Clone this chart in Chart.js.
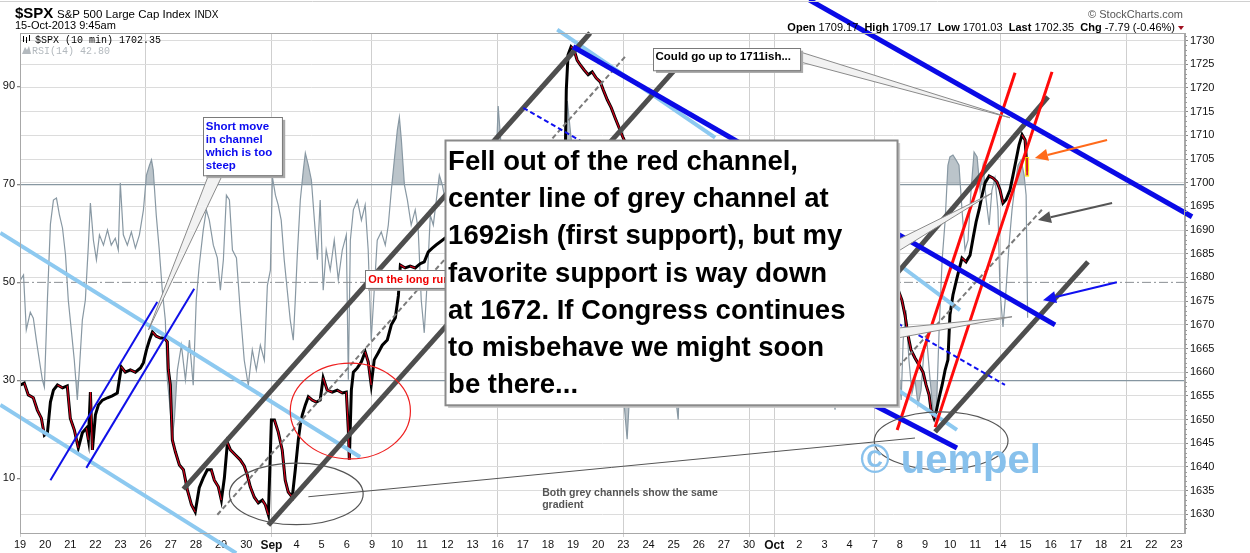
<!DOCTYPE html>
<html><head><meta charset="utf-8">
<script src="https://cdn.jsdelivr.net/npm/chart.js@4.4.0/dist/chart.umd.min.js"></script>
<style>html,body{margin:0;padding:0;background:#fff;overflow:hidden}canvas{display:block}</style>
</head><body>
<canvas id="c" width="1250" height="553" style="width:1250px;height:553px"></canvas>
<script>
// ---------- axis labels ----------
const dayLabels = ['19','20','21','22','23','26','27','28','29','30','Sep','4','5','6','9','10','11','12','13','16','17','18','19','20','23','24','25','26','27','30','Oct','2','3','4','7','8','9','10','11','14','15','16','17','18','21','22','23'];
const gridDays = [0,5,10,14,19,24,29,30,34,39,44];
const priceTicks = [1630,1635,1640,1645,1650,1655,1660,1665,1670,1675,1680,1685,1690,1695,1700,1705,1710,1715,1720,1725,1730];
const rsiTicks = [10,30,50,70,90];

// ---------- $SPX 10-min price (x = trading-day index, y = price) ----------
const priceX = [0.02,0.17,0.33,0.53,0.69,0.85,0.97,1.09,1.21,1.33,1.49,1.69,1.88,2.00,2.16,2.32,2.48,2.64,2.72,2.80,2.88,3.00,3.12,3.28,3.48,3.67,3.87,4.03,4.19,4.39,4.59,4.79,4.91,5.03,5.15,5.27,5.42,5.58,5.74,5.86,5.90,5.98,6.06,6.18,6.34,6.50,6.66,6.82,6.97,7.13,7.29,7.45,7.61,7.73,7.89,8.01,8.13,8.25,8.37,8.57,8.76,8.92,9.04,9.16,9.32,9.48,9.64,9.76,9.88,10.00,10.12,10.27,10.43,10.55,10.67,10.83,10.95,11.07,11.15,11.23,11.35,11.47,11.63,11.79,11.94,12.06,12.22,12.42,12.62,12.82,12.98,13.06,13.10,13.18,13.26,13.42,13.58,13.73,13.85,13.97,14.09,14.25,14.41,14.61,14.77,14.93,15.05,15.13,15.32,15.52,15.72,15.92,16.08,16.24,16.40,16.56,16.76,16.91,
17.10,17.30,17.55,17.80,18.05,18.30,18.55,18.80,19.02,19.25,19.50,19.75,20.05,20.30,20.55,20.80,21.05,21.30,21.55,21.70,21.73,21.80,21.92,22.04,22.16,22.28,22.44,22.60,22.76,22.92,23.08,23.20,23.36,23.52,23.67,23.83,23.99,
24.20,24.45,24.70,24.95,25.20,25.45,25.70,25.95,26.20,26.45,26.70,26.95,27.20,27.45,27.70,27.95,28.20,28.45,28.70,28.95,29.10,29.35,29.60,29.85,30.10,30.35,30.60,30.85,31.10,31.35,31.60,31.85,32.10,32.35,32.60,32.85,33.10,33.35,33.60,33.85,34.10,34.35,34.60,34.85,
34.93,35.08,35.20,35.32,35.44,35.60,35.76,35.92,36.04,36.16,36.24,36.36,36.44,36.56,36.68,36.80,36.91,36.99,37.11,37.23,37.35,37.47,37.63,37.79,37.91,38.03,38.15,38.27,38.39,38.55,38.70,38.86,38.98,39.10,39.22,39.38,39.50,39.62,39.74,39.86,39.98,40.06];
const priceY = [1657.3,1657.7,1655.2,1654.6,1652.0,1650.3,1646.7,1647.2,1653.7,1656.2,1657.3,1656.7,1657.1,1650.3,1647.8,1644.0,1647.2,1648.2,1645.7,1655.8,1643.6,1651.0,1653.1,1654.1,1654.6,1655.0,1655.6,1661.1,1660.0,1660.5,1660.0,1660.9,1662.0,1664.7,1666.8,1668.5,1667.6,1667.2,1667.2,1666.4,1660.5,1657.3,1645.7,1643.2,1640.4,1639.4,1635.1,1632.0,1630.5,1635.6,1637.7,1639.4,1639.4,1637.2,1635.8,1633.0,1637.7,1645.1,1643.6,1642.5,1641.5,1640.2,1638.3,1635.8,1633.6,1632.4,1633.0,1632.0,1629.9,1649.9,1649.9,1647.4,1643.6,1637.2,1634.7,1633.6,1639.4,1645.7,1648.9,1651.0,1653.1,1654.8,1654.1,1653.7,1654.1,1658.8,1656.2,1655.8,1656.2,1655.6,1655.8,1647.8,1641.5,1656.2,1660.0,1660.9,1662.2,1664.3,1662.2,1657.3,1662.6,1664.1,1665.7,1666.8,1670.0,1671.5,1676.1,1682.6,1682.0,1682.4,1682.0,1682.9,1683.3,1685.4,1686.2,1686.9,1687.7,1688.3,
1688.8,1686.0,1683.5,1684.0,1685.5,1686.5,1688.0,1688.5,1703.5,1700.5,1698.0,1697.0,1698.5,1700.5,1702.0,1703.5,1704.5,1704.0,1706.0,1709.0,1719.6,1727.0,1728.7,1728.0,1725.9,1724.9,1723.8,1722.8,1723.4,1722.1,1721.3,1719.6,1717.5,1715.8,1713.7,1711.6,1709.5,
1707.0,1704.0,1701.0,1700.5,1702.0,1699.0,1697.5,1697.0,1697.5,1695.0,1693.5,1692.5,1694.0,1696.5,1698.0,1697.0,1694.5,1693.0,1692.0,1691.0,1680.0,1676.0,1678.5,1681.0,1683.0,1686.5,1691.0,1694.5,1691.0,1693.0,1692.0,1694.0,1691.5,1686.0,1681.0,1678.0,1680.0,1684.0,1687.5,1690.0,1685.5,1682.0,1678.5,1677.5,
1677.4,1675.2,1672.1,1667.9,1664.7,1663.0,1661.5,1660.0,1657.3,1655.2,1652.0,1650.3,1651.6,1654.6,1657.3,1660.5,1662.6,1672.1,1676.3,1679.0,1681.6,1684.1,1683.3,1684.7,1688.3,1691.7,1694.3,1697.4,1700.0,1701.4,1701.0,1700.2,1698.5,1695.7,1696.4,1698.5,1701.6,1704.8,1708.0,1710.1,1709.0,1702.4];

// ---------- RSI(14) ----------
const rsiX = [0.02,0.14,0.25,0.41,0.53,0.65,0.77,0.89,0.97,1.09,1.21,1.33,1.45,1.57,1.69,1.81,1.92,2.04,2.16,2.28,2.36,2.48,2.60,2.72,2.80,2.92,3.04,3.16,3.32,3.48,3.63,3.79,3.91,3.99,4.11,4.27,4.43,4.59,4.75,4.91,5.03,5.15,5.23,5.30,5.42,5.54,5.66,5.78,5.86,5.94,6.06,6.14,6.26,6.42,6.58,6.74,6.89,7.01,7.13,7.29,7.41,7.53,7.69,7.85,7.97,8.09,8.21,8.33,8.45,8.61,8.76,8.92,9.08,9.24,9.40,9.56,9.72,9.84,9.96,10.04,10.16,10.27,10.39,10.51,10.63,10.75,10.87,10.95,11.03,11.15,11.27,11.35,11.47,11.59,11.71,11.83,11.94,12.06,12.18,12.34,12.50,12.66,12.82,12.98,13.06,13.14,13.26,13.42,13.58,13.73,13.85,13.97,14.09,14.21,14.37,14.53,14.65,14.77,14.89,15.01,15.09,15.17,15.29,15.41,15.56,15.72,15.84,15.96,16.08,16.20,16.32,16.44,16.56,16.68,16.80,16.91,
17.10,17.35,17.60,17.85,18.10,18.35,18.60,18.85,19.02,19.15,19.30,19.50,19.75,20.00,20.25,20.50,20.75,21.00,21.25,21.50,21.65,21.77,21.93,22.10,22.30,22.55,22.80,23.00,23.25,23.50,23.75,23.95,24.15,24.30,24.50,24.70,24.90,25.15,25.35,25.60,25.85,26.00,26.18,26.30,26.50,26.70,26.95,27.20,27.45,27.65,27.90,28.15,28.35,28.60,28.80,29.00,29.20,29.45,29.65,29.90,30.15,30.40,30.60,30.85,31.05,31.30,31.55,31.80,32.05,32.25,32.42,32.55,32.70,32.90,33.10,33.35,33.60,33.80,34.05,34.30,34.50,
34.93,35.05,35.13,35.24,35.36,35.48,35.60,35.72,35.84,35.96,36.08,36.20,36.32,36.44,36.56,36.68,36.80,36.91,36.99,37.11,37.23,37.35,37.47,37.59,37.71,37.83,37.95,38.07,38.19,38.31,38.43,38.55,38.66,38.78,38.90,38.98,39.10,39.22,39.34,39.46,39.58,39.70,39.82,39.94,40.02,40.08];
const rsiY = [50.5,51.5,40.3,43.9,42.7,38.2,34.1,30.1,28.6,46.4,61.9,66.8,67.2,63.7,61.1,55.6,46.4,40.3,34.1,26.0,32.1,42.3,46.4,57.6,66.2,58.6,54.6,59.7,57.6,60.7,57.6,59.0,56.6,70.3,59.7,57.6,60.3,57.0,59.7,64.8,71.9,73.9,75.0,72.9,63.7,56.6,48.4,42.3,30.1,26.0,18.4,21.9,32.1,37.2,30.1,38.2,29.0,46.4,53.5,60.7,64.8,62.7,57.6,55.0,48.4,54.6,67.8,66.8,56.6,55.0,44.3,34.1,29.0,36.2,32.1,37.2,34.1,49.4,52.5,71.5,67.8,65.8,62.7,54.6,48.4,42.3,38.2,46.4,55.6,66.8,72.9,76.4,73.9,70.9,62.7,54.6,66.8,48.4,56.6,52.5,58.6,50.5,56.6,59.7,30.1,58.6,64.8,66.8,62.7,65.8,56.6,38.2,48.4,58.6,60.3,57.6,61.7,68.8,75.0,81.1,83.7,79.0,69.9,66.8,61.7,64.8,60.7,46.4,39.7,50.5,63.7,61.7,66.8,71.9,69.9,66.8,
60,54,46,50,56,52,58,62,86,77,67,59,55,61,65,57,61,65,59,68,77,87,79,67,55,59,51,47,40,36,32,30,18,32,46,40,50,46,54,42,38,30,22,40,48,56,58,52,46,54,42,48,40,38,34,28,40,46,56,62,66,68,70,60,54,58,50,46,38,32,24,36,46,54,58,52,56,42,36,32,34,
34.1,26.0,38.2,44.3,34.1,27.4,30.1,25.0,28.0,36.2,37.6,30.1,23.9,21.9,40.3,54.6,62.7,73.9,75.6,76.0,75.0,73.9,64.8,56.6,58.6,68.8,76.6,75.6,68.8,73.9,66.8,61.7,68.8,71.3,64.8,48.4,40.9,48.4,57.6,64.8,69.9,73.9,75.0,71.9,67.8,42.8];

// ---------- drawn annotations (x = day index, p = price) ----------
const trendLines = {
  lightBlueUpper: [-0.78,1689.4, 13.53,1642.1],
  lightBlueLower: [-0.78,1653.1, 8.60,1621.8],
  lightBlueTop:   [21.37,1732.3, 27.65,1709.5],
  lightBlueR1:    [35.09,1682.2, 37.39,1673.1],
  lightBlueR2:    [34.93,1656.2, 37.27,1647.8],
  blueThin1:      [1.21,1637.2, 5.46,1674.8],
  blueThin2:      [2.64,1639.8, 6.93,1677.6],
  greyUpper1:     [6.50,1635.3, 22.68,1731.6],
  greyLower1:     [9.88,1627.7, 26.14,1724.4],
  greyMid1:       [7.85,1629.9, 24.07,1726.6],
  greyUpper2:     [34.89,1680.9, 40.89,1718.1],
  greyLower2:     [36.40,1647.4, 42.48,1683.3],
  greyMid2:       [34.93,1661.1, 40.65,1694.3],
  red1:           [34.89,1647.8, 39.58,1723.2],
  red2:           [36.40,1648.4, 41.05,1723.4],
  blueTopRight:   [31.39,1738.6, 46.62,1692.8],
  blueMid:        [22.00,1728.7, 41.17,1670.0],
  blueLow:        [33.81,1653.5, 37.27,1644.0],
  blueDashed:     [20.02,1715.8, 39.18,1657.3]
};
const lineStyles = {
  lightBlue: {color:'#8dc9f0', width:4},
  blueThin:  {color:'#1010e8', width:2},
  grey:      {color:'#4e4e4e', width:5},
  greyMid:   {color:'#7a7a7a', width:2, dash:[5,3]},
  red:       {color:'#ff0a0a', width:3},
  blue:      {color:'#0a0ae6', width:5},
  blueDash:  {color:'#1010f0', width:2, dash:[5,3]}
};
function styleFor(name){
  if (name.startsWith('lightBlue')) return lineStyles.lightBlue;
  if (name.startsWith('blueThin')) return lineStyles.blueThin;
  if (name.startsWith('greyMid')) return lineStyles.greyMid;
  if (name.startsWith('grey')) return lineStyles.grey;
  if (name.startsWith('red')) return lineStyles.red;
  if (name === 'blueDashed') return lineStyles.blueDash;
  return lineStyles.blue;
}
const arrows = [
  {from:[43.24,1709.0], to:[40.37,1705.2], color:'#ff6a1a'},
  {from:[43.44,1695.7], to:[40.49,1692.1], color:'#555555'},
  {from:[43.63,1679.0], to:[40.69,1675.2], color:'#1010f0'}
];
const ellipses = [
  {c:[13.14,1651.8], rx:2.39, ry:10.1, color:'#ee2020'},
  {c:[10.99,1634.3], rx:2.66, ry:6.5, color:'#555'},
  {c:[36.64,1645.5], rx:2.66, ry:6.1, color:'#555'}
];
const connector = [11.47,1633.7, 35.60,1646.1];
const pointers = [
  {a:[7.50,1701.6], b:[8.05,1701.6], tip:[5.11,1668.9]},
  {a:[31.03,1727.6], b:[31.03,1725.5], tip:[39.38,1713.7]},
  {a:[34.89,1687.9], b:[34.89,1685.4], tip:[38.66,1697.8]},
  {a:[34.89,1669.3], b:[34.89,1667.2], tip:[39.46,1671.7]}
];
const boxes = {
  shortMove: {x1:7.29, p1:1713.9, x2:10.43, p2:1701.6, lines:['Short move','in channel','which is too','steep']},
  couldGo:   {x1:25.18, p1:1728.5, x2:31.03, p2:1723.8, lines:['Could go up to 1711ish...']},
  longRun:   {x1:13.73, p1:1681.6, x2:16.95, p2:1677.8, lines:['On the long run...']},
  big:       {x1:16.91, p1:1709.0, x2:34.89, p2:1653.1, lines:['Fell out of the red channel,','center line of grey channel at','1692ish (first support), but my','favorite support is way down','at 1672. If Congress continues','to misbehave we might soon','be there...']}
};
const noteGrey = {x:20.77, p:1634.5, lines:['Both grey channels show the same','gradient']};
const watermark = {x:33.42, p:1641.0, text:'\u00A9 uempel'};

const FONT = '"Liberation Sans", Arial, sans-serif';
const priceData = priceX.map((x,i)=>({x, y:priceY[i]}));
const rsiData = rsiX.map((x,i)=>({x, y:rsiY[i]}));
const RSI_FILL = 'rgba(145,160,170,0.62)';

const datasets = [
  {data:rsiData, yAxisID:'yRsi', borderColor:'#8898a3', borderWidth:1.2, pointRadius:0, tension:0,
   fill:{target:{value:70}, above:RSI_FILL, below:'rgba(0,0,0,0)'}, order:100},
  {data:rsiData, yAxisID:'yRsi', borderColor:'rgba(0,0,0,0)', borderWidth:0, pointRadius:0, tension:0,
   fill:{target:{value:30}, above:'rgba(0,0,0,0)', below:RSI_FILL}, order:101},
  {data:[{x:0,y:50},{x:46.34,y:50}], yAxisID:'yRsi', borderColor:'#8a8f94', borderWidth:1, borderDash:[9,3,2,3], pointRadius:0, fill:false, order:99},
  {data:priceData, yAxisID:'yPrice', borderColor:'#000', borderWidth:3, pointRadius:0, tension:0, fill:false, order:50},
  {data:priceData, yAxisID:'yPrice', borderColor:'#d0021b', borderWidth:1.2, pointRadius:0, tension:0, fill:false, order:49,
   segment:{borderColor: c => c.p1.parsed.y < c.p0.parsed.y - 0.3 ? '#d0021b' : 'rgba(0,0,0,0)'}}
];
let ord = 40;
for (const [name, v] of Object.entries(trendLines)) {
  const s = styleFor(name);
  datasets.push({data:[{x:v[0],y:v[1]},{x:v[2],y:v[3]}], yAxisID:'yPrice', borderColor:s.color, borderWidth:s.width,
    borderDash:s.dash || [], pointRadius:0, fill:false, clip:false, borderCapStyle:'butt', order:ord--});
}

const overlay = {
  id:'overlay',
  afterDatasetsDraw(chart){
    const ctx = chart.ctx;
    const X = v => chart.scales.x.getPixelForValue(v);
    const Y = v => chart.scales.yPrice.getPixelForValue(v);
    ctx.save();
    // last bar highlight
    const lx = X(priceX[priceX.length-1]);
    ctx.fillStyle = '#e0102a'; ctx.strokeStyle = '#ffe600'; ctx.lineWidth = 1;
    ctx.fillRect(lx-1, Y(1705.2), 2, Y(1701.5)-Y(1705.2));
    ctx.strokeRect(lx-1.5, Y(1705.2)-0.5, 3, Y(1701.5)-Y(1705.2)+1);
    // ellipses
    for (const e of ellipses){
      const cx = X(e.c[0]), cy = Y(e.c[1]);
      const rx = X(e.c[0]+e.rx)-cx, ry = cy - Y(e.c[1]+e.ry);
      ctx.beginPath(); ctx.ellipse(cx, cy, rx, ry, 0, 0, Math.PI*2);
      ctx.strokeStyle = e.color; ctx.lineWidth = 1.2; ctx.stroke();
    }
    ctx.beginPath(); ctx.moveTo(X(connector[0]), Y(connector[1])); ctx.lineTo(X(connector[2]), Y(connector[3]));
    ctx.strokeStyle = '#555'; ctx.lineWidth = 1; ctx.stroke();
    // arrows
    for (const ar of arrows){
      const x1 = X(ar.from[0]), y1 = Y(ar.from[1]), x2 = X(ar.to[0]), y2 = Y(ar.to[1]);
      const ang = Math.atan2(y2-y1, x2-x1), L = 13, W = 6;
      const bx = x2 - L*Math.cos(ang), by = y2 - L*Math.sin(ang);
      ctx.beginPath(); ctx.moveTo(x1,y1); ctx.lineTo(bx,by);
      ctx.strokeStyle = ar.color; ctx.lineWidth = 2; ctx.stroke();
      ctx.beginPath(); ctx.moveTo(x2,y2);
      ctx.lineTo(bx + W*Math.sin(ang), by - W*Math.cos(ang));
      ctx.lineTo(bx - W*Math.sin(ang), by + W*Math.cos(ang));
      ctx.closePath(); ctx.fillStyle = ar.color; ctx.fill();
    }
    // pointers
    for (const p of pointers){
      ctx.beginPath(); ctx.moveTo(X(p.a[0]), Y(p.a[1])); ctx.lineTo(X(p.tip[0]), Y(p.tip[1])); ctx.lineTo(X(p.b[0]), Y(p.b[1]));
      ctx.closePath(); ctx.fillStyle = '#f2f2f2'; ctx.fill(); ctx.strokeStyle = '#8a8a8a'; ctx.lineWidth = 1; ctx.stroke();
    }
    // boxes
    function drawBox(b, lw, shadow, stroke){
      const x1 = X(b.x1), y1 = Y(b.p1), x2 = X(b.x2), y2 = Y(b.p2);
      ctx.fillStyle = shadow; ctx.fillRect(x1+3, y1+3, x2-x1, y2-y1);
      ctx.fillStyle = '#fff'; ctx.fillRect(x1, y1, x2-x1, y2-y1);
      ctx.lineWidth = lw; ctx.strokeStyle = stroke; ctx.strokeRect(Math.round(x1)+0.5, Math.round(y1)+0.5, x2-x1, y2-y1);
      return {x1, y1, x2, y2};
    }
    let r = drawBox(boxes.shortMove, 1, '#a9a9a9', '#7a7a7a');
    ctx.fillStyle = '#0a0af0'; ctx.font = 'bold 11.5px '+FONT; ctx.textBaseline = 'alphabetic'; ctx.textAlign = 'left';
    boxes.shortMove.lines.forEach((t,i)=>ctx.fillText(t, r.x1+2.5, r.y1+13+i*13));
    r = drawBox(boxes.couldGo, 1, '#a9a9a9', '#7a7a7a');
    ctx.fillStyle = '#000'; ctx.font = 'bold 11.5px '+FONT;
    ctx.fillText(boxes.couldGo.lines[0], r.x1+2.5, r.y1+12.5);
    r = drawBox(boxes.longRun, 1, '#a9a9a9', '#7a7a7a');
    ctx.save(); ctx.beginPath(); ctx.rect(r.x1, r.y1, r.x2-r.x1, r.y2-r.y1); ctx.clip();
    ctx.fillStyle = '#f00000'; ctx.font = 'bold 11px '+FONT;
    ctx.fillText(boxes.longRun.lines[0], r.x1+3, r.y1+13.5); ctx.restore();
    r = drawBox(boxes.big, 2, '#c8c8c8', '#8a8a8a');
    ctx.fillStyle = '#000'; ctx.font = 'bold 27.5px '+FONT;
    boxes.big.lines.forEach((t,i)=>ctx.fillText(t, r.x1+3, r.y1+30+i*37.2));
    // grey note
    ctx.fillStyle = '#555'; ctx.font = 'bold 10.5px '+FONT; ctx.textBaseline = 'middle';
    noteGrey.lines.forEach((t,i)=>ctx.fillText(t, X(noteGrey.x), Y(noteGrey.p)+i*12.5));
    // watermark
    ctx.fillStyle = '#88c1ec'; ctx.font = 'bold 40px '+FONT;
    ctx.fillText(watermark.text, X(watermark.x), Y(watermark.p));
    ctx.restore();
  },
  afterDraw(chart){
    const ctx = chart.ctx, a = chart.chartArea;
    const Y = v => chart.scales.yPrice.getPixelForValue(v);
    ctx.save();
    // frame
    ctx.strokeStyle = '#a8a8a8'; ctx.lineWidth = 1;
    ctx.strokeRect(a.left+0.5, a.top+0.5, a.right-a.left-1, a.bottom-a.top);
    ctx.strokeStyle = '#d0d0d0'; ctx.beginPath(); ctx.moveTo(0,1.5); ctx.lineTo(1250,1.5); ctx.stroke();
    // minor price ticks
    ctx.strokeStyle = '#9a9a9a';
    for (let p = 1627; p <= 1731; p++){
      if (p % 5 === 0) continue;
      const y = Math.round(Y(p))+0.5;
      ctx.beginPath(); ctx.moveTo(a.right, y); ctx.lineTo(a.right+2, y); ctx.stroke();
    }
    // header
    ctx.textBaseline = 'alphabetic'; ctx.textAlign = 'left'; ctx.fillStyle = '#000';
    ctx.font = 'bold 15px '+FONT; ctx.fillText('$SPX', 15, 18);
    ctx.font = '11.5px '+FONT; ctx.fillText('S&P 500 Large Cap Index', 57, 18);
    const w1 = ctx.measureText('S&P 500 Large Cap Index').width;
    ctx.font = '10px '+FONT; ctx.fillText('INDX', 57 + w1 + 4, 18);
    ctx.font = '11px '+FONT; ctx.fillText('15-Oct-2013 9:45am', 15, 29);
    // legend in chart
    ctx.font = '10px "Liberation Mono", "DejaVu Sans Mono", monospace';
    ctx.fillStyle = '#000'; ctx.fillText('$SPX (10 min) 1702.35', 35, 43);
    ctx.fillStyle = '#b3b9be'; ctx.fillText('RSI(14) 42.80', 32, 54);
    ctx.strokeStyle = '#000'; ctx.lineWidth = 1;
    [[23,36,42],[26,37,43],[29,35,41]].forEach(s=>{ctx.beginPath();ctx.moveTo(s[0]+0.5,s[1]);ctx.lineTo(s[0]+0.5,s[2]);ctx.stroke();});
    ctx.fillStyle = '#b3b9be'; ctx.beginPath(); ctx.moveTo(22,54); ctx.lineTo(25,47); ctx.lineTo(27,50); ctx.lineTo(29,46); ctx.lineTo(31,54); ctx.closePath(); ctx.fill();
    // top right
    ctx.textAlign = 'right'; ctx.fillStyle = '#555'; ctx.font = '11px '+FONT;
    ctx.fillText('\u00A9 StockCharts.com', 1183, 18);
    const parts = [['Open ',1],['1709.17  ',0],['High ',1],['1709.17  ',0],['Low ',1],['1701.03  ',0],['Last ',1],['1702.35  ',0],['Chg ',1],['-7.79 (-0.46%)',0]];
    let total = 0;
    parts.forEach(p=>{ ctx.font = (p[1]?'bold ':'')+'11px '+FONT; total += ctx.measureText(p[0]).width; });
    let x = 1175 - total; ctx.textAlign = 'left'; ctx.fillStyle = '#000';
    parts.forEach(p=>{ ctx.font = (p[1]?'bold ':'')+'11px '+FONT; ctx.fillText(p[0], x, 31); x += ctx.measureText(p[0]).width; });
    ctx.fillStyle = '#a01020'; ctx.beginPath(); ctx.moveTo(1178,26); ctx.lineTo(1184,26); ctx.lineTo(1181,30); ctx.closePath(); ctx.fill();
    ctx.restore();
  }
};

new Chart(document.getElementById('c'), {
  type:'line',
  data:{datasets},
  options:{
    responsive:false, animation:false, events:[],
    layout:{padding:{top:33, left:0, right:0, bottom:0}},
    plugins:{legend:{display:false}, tooltip:{enabled:false}},
    scales:{
      x:{type:'linear', min:0, max:46.34,
        afterFit: s => { s.height = 20; },
        afterBuildTicks: s => { s.ticks = dayLabels.map((l,i)=>({value:i})); },
        ticks:{autoSkip:false, maxRotation:0, minRotation:0, padding:1, color:'#111',
          callback: v => dayLabels[v],
          font: c => (c.tick && (dayLabels[c.tick.value]==='Sep' || dayLabels[c.tick.value]==='Oct')) ? {family:FONT, size:12, weight:'bold'} : {family:FONT, size:11}},
        grid:{color: c => (c.tick && gridDays.includes(c.tick.value)) ? '#cfcfcf' : 'rgba(0,0,0,0)', tickLength:4, lineWidth:1},
        border:{color:'#a8a8a8'}
      },
      yRsi:{type:'linear', axis:'y', position:'left', min:-1.16, max:100.9,
        afterFit: s => { s.width = 20; },
        afterBuildTicks: s => { s.ticks = rsiTicks.map(v=>({value:v})); },
        ticks:{padding:2, color:'#111', font:{family:FONT, size:11}, callback: v => String(v)},
        grid:{color: c => (c.tick && (c.tick.value===70 || c.tick.value===30)) ? '#8696a1' : 'rgba(0,0,0,0)', lineWidth:1.3, tickLength:3, tickColor:'#888'},
        border:{color:'#a8a8a8'}
      },
      yPrice:{type:'linear', axis:'y', position:'right', min:1626.05, max:1731.6,
        afterFit: s => { s.width = 65; },
        afterBuildTicks: s => { s.ticks = priceTicks.map(v=>({value:v})); },
        ticks:{padding:2, color:'#111', font:{family:FONT, size:11}, callback: v => String(v)},
        grid:{color:'#dcdcdc', tickLength:3, tickColor:'#888'},
        border:{color:'#a8a8a8'}
      }
    }
  },
  plugins:[overlay]
});
</script>
</body></html>
